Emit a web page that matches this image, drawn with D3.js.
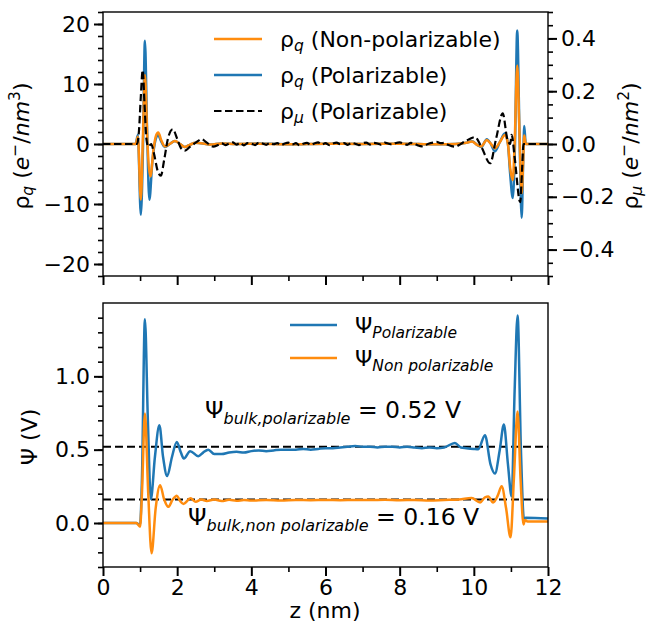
<!DOCTYPE html>
<html>
<head>
<meta charset="utf-8">
<script src="https://cdn.jsdelivr.net/npm/d3@7"></script>
<style>
body { margin: 0; background: #fff; }
text { font-family: "DejaVu Sans", sans-serif; fill: #000; }
</style>
</head>
<body>
<script>
// ---- data (z in nm) ----
var xTicksMajor = [0, 2, 4, 6, 8, 10, 12];
var xTicksMinor = [1, 3, 5, 7, 9, 11];
var rhoTicks = [-20, -10, 0, 10, 20];
var muTicks = [-0.4, -0.2, 0, 0.2, 0.4];
var psiTicks = [0, 0.5, 1.0];

// top panel, left axis: rho_q (e-/nm3)
var rhoQPolar = [[0,0],[0.88,0],[0.94,1.5],[1.02,-11.8],[1.08,0],[1.13,17.2],[1.19,2],[1.25,-9.3],[1.33,-3],
  [1.42,0.8],[1.48,1.5],[1.58,0.3],[1.67,-0.5],[1.8,0],[1.94,0.5],[2.08,0],[2.2,-0.5],[2.35,-0.1],[2.5,0.2],
  [2.7,0.1],[2.9,-0.1],[3.2,0.1],[3.6,0],[4.2,0.1],[5,-0.05],[6,0.05],[7,0],[8,0.05],[9,-0.05],[9.5,0],
  [9.8,0.2],[9.95,0.45],[10.1,-0.2],[10.2,-0.5],[10.35,0.8],[10.45,0.1],[10.57,-1.2],[10.7,0.3],[10.84,1.8],
  [10.92,0],[10.98,-5],[11.05,-9],[11.11,0],[11.17,18.9],[11.23,2],[11.29,-12.3],[11.33,-3],[11.36,3],[11.4,0],[12,0]];
var rhoQNonPolar = [[0,0],[0.88,0],[0.94,1.2],[1.02,-9.3],[1.08,2],[1.13,11.5],[1.2,0],[1.28,-5.4],[1.36,-1],
  [1.42,1.2],[1.49,1.9],[1.58,0.5],[1.67,-0.4],[1.8,0],[1.94,0.5],[2.08,0],[2.2,-0.5],[2.35,-0.1],[2.5,0.2],
  [2.7,0.1],[2.9,-0.1],[3.2,0.1],[3.6,0],[4.2,0.05],[5,-0.05],[6,0.05],[7,0],[8,0.05],[9,-0.05],[9.5,0],
  [9.8,0.2],[9.95,0.4],[10.1,-0.2],[10.2,-0.4],[10.35,0.66],[10.45,0.1],[10.57,-0.7],[10.7,0.3],[10.84,1.5],
  [10.92,0],[10.98,-4],[11.05,-6],[11.1,0],[11.17,13.1],[11.23,2],[11.29,-8.2],[11.33,-3],[11.36,1.4],[11.4,0],[12,0]];
// top panel, right axis: rho_mu (e-/nm2)
var rhoMuPolar = [[0,0],[0.92,0],[0.97,0.05],[1.02,0.18],[1.07,0.28],[1.12,0.15],[1.17,0.02],[1.22,-0.01],
  [1.3,0],[1.38,-0.04],[1.47,-0.1],[1.56,-0.12],[1.65,-0.06],[1.75,0.02],[1.88,0.056],[2.0,0.02],[2.1,-0.015],
  [2.21,-0.025],[2.35,-0.01],[2.5,0.005],[2.66,0.018],[2.8,0.005],[2.97,-0.01],[3.1,-0.004],
  [3.2,0.003],[3.3,-0.004],[3.4,0.002],[3.5,0.006],[3.6,-0.002],[3.7,0.004],[3.8,-0.005],[3.9,0.003],
  [4.0,0.001],[4.1,-0.004],[4.2,0.005],[4.3,0.002],[4.4,-0.003],[4.5,0.004],[4.6,-0.001],[4.7,0.003],
  [4.8,-0.004],[4.9,0.002],[5.0,0.005],[5.1,-0.002],[5.2,0.003],[5.3,-0.005],[5.4,0.001],[5.5,0.004],
  [5.6,-0.003],[5.7,0.002],[5.8,0.006],[5.9,-0.002],[6.0,0.003],[6.1,-0.004],[6.2,0.002],[6.3,0.005],
  [6.4,-0.001],[6.5,0.003],[6.6,-0.003],[6.7,0.004],[6.8,0.001],[6.9,-0.004],[7.0,0.003],[7.1,0.005],
  [7.2,-0.002],[7.3,0.004],[7.4,0.002],[7.5,-0.003],[7.6,0.005],[7.7,0.001],[7.8,-0.002],[7.9,0.004],
  [8.0,0.006],[8.1,0.002],[8.2,-0.003],[8.3,0.004],[8.4,0.001],[8.5,-0.006],[8.6,-0.009],[8.7,-0.004],
  [8.8,0.002],[8.9,0.005],[9.0,0.008],[9.1,0.003],[9.2,0.004],[9.3,-0.003],[9.4,-0.008],[9.5,-0.01],
  [9.6,-0.004],[9.7,0.005],[9.8,0.012],[9.9,0.02],[10.03,0.026],[10.2,-0.01],[10.44,-0.073],[10.6,0.02],
  [10.78,0.116],[10.9,0.02],[10.98,0],[11.02,0.035],[11.1,-0.05],[11.25,-0.22],[11.3,-0.1],[11.34,0],[12,0]];

// bottom panel: Psi (V)
var psiPolar = [[0,0],[0.9,0],[1.0,-0.015],[1.05,0.3],[1.13,1.39],[1.21,0.7],[1.29,0.163],[1.4,0.45],
  [1.52,0.667],[1.62,0.45],[1.73,0.32],[1.86,0.45],[1.99,0.553],[2.1,0.48],[2.18,0.44],[2.35,0.49],
  [2.57,0.455],[2.7,0.48],[2.84,0.5],[3.0,0.47],[3.2,0.47],[3.4,0.48],[3.6,0.485],[3.8,0.48],[4.0,0.49],
  [4.2,0.495],[4.4,0.49],[4.6,0.495],[4.8,0.5],[5.0,0.5],[5.2,0.5],[5.4,0.505],[5.6,0.5],[5.8,0.505],
  [6.0,0.51],[6.2,0.51],[6.4,0.515],[6.6,0.52],[6.8,0.525],[7.0,0.52],[7.2,0.52],[7.4,0.515],[7.6,0.52],
  [7.8,0.52],[8.0,0.515],[8.2,0.52],[8.4,0.515],[8.6,0.51],[8.8,0.515],[9.0,0.51],[9.2,0.515],[9.49,0.546],
  [9.65,0.515],[9.8,0.51],[10.0,0.505],[10.12,0.503],[10.3,0.599],[10.45,0.4],[10.57,0.338],[10.7,0.5],
  [10.81,0.671],[10.92,0.4],[11.02,0.18],[11.1,0.9],[11.18,1.415],[11.27,0.5],[11.35,0.03],[11.4,0.035],[12,0.03]];
var psiNonPolar = [[0,0],[0.9,0],[1.0,-0.025],[1.05,0.2],[1.13,0.746],[1.22,0.2],[1.31,-0.206],[1.42,0.1],
  [1.54,0.258],[1.65,0.16],[1.76,0.11],[1.88,0.16],[1.99,0.186],[2.08,0.15],[2.17,0.13],[2.36,0.168],
  [2.5,0.145],[2.65,0.16],[2.8,0.15],[3.0,0.16],[3.2,0.15],[3.4,0.158],[3.6,0.152],[3.8,0.156],[4.0,0.153],
  [4.4,0.157],[4.8,0.154],[5.2,0.157],[5.6,0.155],[6.0,0.157],[6.4,0.155],[6.8,0.157],[7.2,0.156],[7.6,0.158],
  [8.0,0.155],[8.4,0.157],[8.8,0.154],[9.2,0.157],[9.6,0.16],[9.94,0.17],[10.17,0.14],[10.3,0.175],
  [10.39,0.18],[10.52,0.14],[10.65,0.19],[10.75,0.25],[10.87,0.1],[10.99,-0.098],[11.08,0.3],[11.18,0.76],
  [11.26,0.3],[11.34,-0.01],[11.38,0.02],[11.45,0.01],[12,0.01]];
var psiBulk = [0.52, 0.16];

var w = 647, h = 625;
var blue = "#1f77b4", orange = "#ff8c0e";
var fs = "22px", fsSub = "15.5px";

var svg = d3.select("body").append("svg")
    .attr("width", w)
    .attr("height", h);

// scales
var x = d3.scaleLinear().domain([0, 12]).range([103, 548]);
var yRho = d3.scaleLinear().domain([-22, 22]).range([276, 12]);
var yMu = d3.scaleLinear().domain([-0.5, 0.5]).range([276, 12]);
var yPsi = d3.scaleLinear().domain([-0.3, 1.5]).range([567, 303]);

function styleAxis(g, width) {
    g.select(".domain").remove();
    g.selectAll(".tick line").attr("stroke", "#000").attr("stroke-width", width);
    g.selectAll(".tick text").attr("font-size", fs).attr("fill", "#000")
        .style("font-family", "DejaVu Sans");
}
function range(a, b, s) {
    var out = [];
    for (var v = a; v <= b + 1e-9; v += s) out.push(+v.toFixed(3));
    return out;
}

svg.append("clipPath").attr("id", "clipTop").append("rect")
    .attr("x", 103).attr("y", 12).attr("width", 445).attr("height", 264);
svg.append("clipPath").attr("id", "clipBot").append("rect")
    .attr("x", 103).attr("y", 303).attr("width", 445).attr("height", 264);

// ---------- top panel ----------
var lineRho = d3.line().x(function(d){ return x(d[0]); }).y(function(d){ return yRho(d[1]); })
    .curve(d3.curveMonotoneX);
var lineMu = d3.line().x(function(d){ return x(d[0]); }).y(function(d){ return yMu(d[1]); })
    .curve(d3.curveMonotoneX);

var topG = svg.append("g").attr("clip-path", "url(#clipTop)");
topG.append("path").datum(rhoQPolar).attr("d", lineRho)
    .attr("fill", "none").attr("stroke", blue).attr("stroke-width", 2.5);
topG.append("path").datum(rhoQNonPolar).attr("d", lineRho)
    .attr("fill", "none").attr("stroke", orange).attr("stroke-width", 2.5);
topG.append("path").datum(rhoMuPolar).attr("d", lineMu)
    .attr("fill", "none").attr("stroke", "#000").attr("stroke-width", 2.2)
    .attr("stroke-dasharray", "7.5,3.5");

// axes: left, right, bottom (no labels)
svg.append("g").attr("transform", "translate(103,0)")
    .call(d3.axisLeft(yRho).tickValues(range(-22, 22, 2)).tickSize(5).tickFormat(""))
    .call(styleAxis, 1.6);
svg.append("g").attr("transform", "translate(103,0)")
    .call(d3.axisLeft(yRho).tickValues(rhoTicks).tickSize(9).tickPadding(4).tickFormat(d3.format("d")))
    .call(styleAxis, 2);
svg.append("g").attr("transform", "translate(548,0)")
    .call(d3.axisRight(yMu).tickValues(range(-0.5, 0.5, 0.05)).tickSize(5).tickFormat(""))
    .call(styleAxis, 1.6);
svg.append("g").attr("transform", "translate(548,0)")
    .call(d3.axisRight(yMu).tickValues(muTicks).tickSize(9).tickPadding(4).tickFormat(d3.format(".1f")))
    .call(styleAxis, 2);
svg.append("g").attr("transform", "translate(0,276)")
    .call(d3.axisBottom(x).tickValues(xTicksMinor).tickSize(5).tickFormat(""))
    .call(styleAxis, 1.6);
svg.append("g").attr("transform", "translate(0,276)")
    .call(d3.axisBottom(x).tickValues(xTicksMajor).tickSize(9).tickFormat(""))
    .call(styleAxis, 2);

svg.append("rect").attr("x", 103).attr("y", 12).attr("width", 445).attr("height", 264)
    .attr("fill", "none").attr("stroke", "#000").attr("stroke-width", 1.4);

// legend top
var legTop = [
    {c: orange, dash: null, sym: "ρ", sub: "q", txt: " (Non-polarizable)", y: 39},
    {c: blue, dash: null, sym: "ρ", sub: "q", txt: " (Polarizable)", y: 75},
    {c: "#000", dash: "7.5,3.5", sym: "ρ", sub: "μ", txt: " (Polarizable)", y: 111}
];
legTop.forEach(function(d){
    svg.append("line").attr("x1", 214).attr("x2", 262).attr("y1", d.y).attr("y2", d.y)
        .attr("stroke", d.c).attr("stroke-width", d.dash ? 2.2 : 2.5).attr("stroke-dasharray", d.dash);
    var t = svg.append("text").attr("x", 280).attr("y", d.y + 8).attr("font-size", fs);
    t.append("tspan").text(d.sym);
    t.append("tspan").attr("font-size", fsSub).attr("font-style", "italic").attr("dy", 4).text(d.sub);
    t.append("tspan").attr("dy", -4).text(d.txt);
});

// axis titles top
function unitLabel(t, sym, sub, pow) {
    t.append("tspan").text(sym);
    t.append("tspan").attr("font-size", fsSub).attr("font-style", "italic").attr("dy", 4).text(sub);
    t.append("tspan").attr("dy", -4).text(" (");
    t.append("tspan").attr("font-style", "italic").text("e");
    t.append("tspan").attr("font-size", fsSub).attr("dy", -9).text("−");
    t.append("tspan").attr("dy", 9).text("/");
    t.append("tspan").attr("font-style", "italic").text("nm");
    t.append("tspan").attr("font-size", fsSub).attr("dy", -9).text(pow);
    t.append("tspan").attr("dy", 9).text(")");
}
svg.append("text").attr("transform", "translate(29,146) rotate(-90)")
    .attr("text-anchor", "middle").attr("font-size", fs)
    .call(unitLabel, "ρ", "q", "3");
svg.append("text").attr("transform", "translate(638,146) rotate(-90)")
    .attr("text-anchor", "middle").attr("font-size", fs)
    .call(unitLabel, "ρ", "μ", "2");

// ---------- bottom panel ----------
var linePsi = d3.line().x(function(d){ return x(d[0]); }).y(function(d){ return yPsi(d[1]); })
    .curve(d3.curveMonotoneX);
var botG = svg.append("g").attr("clip-path", "url(#clipBot)");
botG.selectAll(".bulk").data(psiBulk).enter().append("line")
    .attr("x1", x(0)).attr("x2", x(12))
    .attr("y1", function(d){ return yPsi(d); }).attr("y2", function(d){ return yPsi(d); })
    .attr("stroke", "#000").attr("stroke-width", 2).attr("stroke-dasharray", "8,4");
botG.append("path").datum(psiPolar).attr("d", linePsi)
    .attr("fill", "none").attr("stroke", blue).attr("stroke-width", 2.5);
botG.append("path").datum(psiNonPolar).attr("d", linePsi)
    .attr("fill", "none").attr("stroke", orange).attr("stroke-width", 2.5);

svg.append("g").attr("transform", "translate(103,0)")
    .call(d3.axisLeft(yPsi).tickValues(range(-0.3, 1.4, 0.1)).tickSize(5).tickFormat(""))
    .call(styleAxis, 1.6);
svg.append("g").attr("transform", "translate(103,0)")
    .call(d3.axisLeft(yPsi).tickValues(psiTicks).tickSize(9).tickPadding(4).tickFormat(d3.format(".1f")))
    .call(styleAxis, 2);
svg.append("g").attr("transform", "translate(0,567)")
    .call(d3.axisBottom(x).tickValues(xTicksMinor).tickSize(5).tickFormat(""))
    .call(styleAxis, 1.6);
svg.append("g").attr("transform", "translate(0,567)")
    .call(d3.axisBottom(x).tickValues(xTicksMajor).tickSize(9).tickPadding(3).tickFormat(d3.format("d")))
    .call(styleAxis, 2);

svg.append("rect").attr("x", 103).attr("y", 303).attr("width", 445).attr("height", 264)
    .attr("fill", "none").attr("stroke", "#000").attr("stroke-width", 1.4);

// legend bottom
var legBot = [
    {c: blue, sub: "Polarizable", y: 325},
    {c: orange, sub: "Non polarizable", y: 358}
];
legBot.forEach(function(d){
    svg.append("line").attr("x1", 290).attr("x2", 337).attr("y1", d.y).attr("y2", d.y)
        .attr("stroke", d.c).attr("stroke-width", 2.5);
    var t = svg.append("text").attr("x", 355).attr("y", d.y + 8).attr("font-size", fs);
    t.append("tspan").text("Ψ");
    t.append("tspan").attr("font-size", fsSub).attr("font-style", "italic").attr("dy", 5).text(d.sub);
});

// bulk annotations (slightly larger font than the rest)
var a1 = svg.append("text").attr("x", 205).attr("y", 418).attr("font-size", "23.5px");
a1.append("tspan").text("Ψ");
a1.append("tspan").attr("font-size", "16px").attr("font-style", "italic").attr("dy", 6).text("bulk,polarizable");
a1.append("tspan").attr("dy", -6).text(" = 0.52 V");
var a2 = svg.append("text").attr("x", 188).attr("y", 525).attr("font-size", "23.5px");
a2.append("tspan").text("Ψ");
a2.append("tspan").attr("font-size", "16px").attr("font-style", "italic").attr("dy", 6).text("bulk,non polarizable");
a2.append("tspan").attr("dy", -6).text(" = 0.16 V");

// axis titles bottom
svg.append("text").attr("transform", "translate(37,437) rotate(-90)")
    .attr("text-anchor", "middle").attr("font-size", fs).text("Ψ (V)");
svg.append("text").attr("x", 325).attr("y", 618)
    .attr("text-anchor", "middle").attr("font-size", fs).text("z (nm)");
</script>
</body>
</html>
